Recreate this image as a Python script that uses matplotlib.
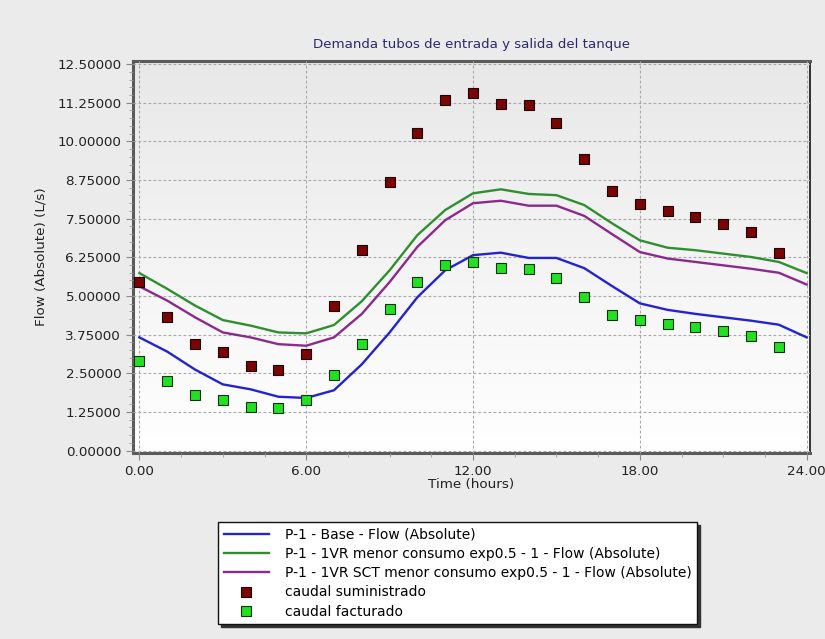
import matplotlib
matplotlib.use('Agg')
import matplotlib.pyplot as plt
from matplotlib.ticker import MultipleLocator
import numpy as np

# ---- data ----
hours = list(range(0, 25))
hours_pts = list(range(0, 24))

base_flow = [3.66, 3.20, 2.62, 2.14, 1.98, 1.74, 1.70, 1.95, 2.79, 3.82, 4.96, 5.83, 6.32,
             6.40, 6.23, 6.23, 5.90, 5.32, 4.76, 4.55, 4.42, 4.31, 4.20, 4.07, 3.66]
vr_flow = [5.74, 5.23, 4.69, 4.22, 4.04, 3.82, 3.79, 4.06, 4.83, 5.83, 6.97, 7.78, 8.32,
           8.45, 8.30, 8.26, 7.94, 7.35, 6.80, 6.56, 6.48, 6.37, 6.26, 6.10, 5.74]
vr_sct_flow = [5.31, 4.85, 4.31, 3.82, 3.66, 3.44, 3.39, 3.66, 4.42, 5.45, 6.59, 7.45, 8.00,
               8.08, 7.92, 7.92, 7.59, 7.00, 6.42, 6.21, 6.10, 5.99, 5.88, 5.75, 5.37]
suministrado = [5.45, 4.33, 3.46, 3.19, 2.72, 2.60, 3.11, 4.69, 6.50, 8.70, 10.28, 11.33,
                11.58, 11.22, 11.19, 10.59, 9.44, 8.38, 7.99, 7.75, 7.56, 7.32, 7.07, 6.38]
facturado = [2.88, 2.25, 1.81, 1.65, 1.42, 1.38, 1.62, 2.44, 3.43, 4.57, 5.45, 5.99, 6.10,
             5.90, 5.87, 5.59, 4.96, 4.40, 4.21, 4.09, 3.98, 3.86, 3.71, 3.35]

labels = ['P-1 - Base - Flow (Absolute)',
          'P-1 - 1VR menor consumo exp0.5 - 1 - Flow (Absolute)',
          'P-1 - 1VR SCT menor consumo exp0.5 - 1 - Flow (Absolute)',
          'caudal suministrado',
          'caudal facturado']

fig = plt.figure(figsize=(8.25, 6.39), dpi=100, facecolor='#ebebeb')
ax = fig.add_axes([133/825, 1 - 453/639, (810 - 133)/825, (453 - 60.7)/639])

# gradient background of the plot area
grad = np.linspace(0, 1, 256).reshape(-1, 1)
ax.imshow(grad, extent=[0, 1, 0, 1], transform=ax.transAxes, aspect='auto',
          cmap=matplotlib.colors.LinearSegmentedColormap.from_list('bg', ['#e8e8e8', '#ffffff']),
          origin='upper', zorder=0)

ax.plot(hours, base_flow, color='#2323d0', lw=1.7, label=labels[0], zorder=3)
ax.plot(hours, vr_flow, color='#2f8f2f', lw=1.7, label=labels[1], zorder=3)
ax.plot(hours, vr_sct_flow, color='#8b2a8b', lw=1.7, label=labels[2], zorder=3)
ax.plot(hours_pts, suministrado, ls='none', marker='s', ms=7, mfc='#7a0505', mec='#1a0000',
        mew=0.8, label=labels[3], zorder=4)
ax.plot(hours_pts, facturado, ls='none', marker='s', ms=7, mfc='#22e022', mec='#103010',
        mew=0.8, label=labels[4], zorder=4)

ax.set_xlim(-0.23, 24.12)
ax.set_ylim(-0.08, 12.61)
ax.xaxis.set_major_locator(MultipleLocator(6))
ax.xaxis.set_minor_locator(MultipleLocator(1.5))
ax.yaxis.set_major_locator(MultipleLocator(1.25))
ax.yaxis.set_minor_locator(MultipleLocator(0.25))
ax.xaxis.set_major_formatter(matplotlib.ticker.FormatStrFormatter('%.2f'))
ax.yaxis.set_major_formatter(matplotlib.ticker.FormatStrFormatter('%.5f'))
ax.tick_params(axis='both', which='major', labelsize=9.7, color='#888888', length=5,
               labelcolor='#222222')
ax.tick_params(axis='both', which='minor', color='#999999', length=3)
ax.grid(True, which='major', color='#a8a8a8', linestyle=(0, (2.5, 2)), linewidth=0.8, zorder=1)
ax.set_axisbelow(False)

for side in ['left', 'top', 'bottom']:
    ax.spines[side].set_color('#5a5a5a')
    ax.spines[side].set_linewidth(2.2)
ax.spines['right'].set_color('#111111')
ax.spines['right'].set_linewidth(1.2)

ax.set_title('Demanda tubos de entrada y salida del tanque', fontsize=9.6,
             color='#2a2a70', pad=9)
ax.set_xlabel('Time (hours)', fontsize=9.7, color='#222222', labelpad=0)
ax.set_ylabel('Flow (Absolute) (L/s)', fontsize=9.7, color='#222222', labelpad=7)

leg = fig.legend(loc='upper left', bbox_to_anchor=(218/825, 1 - 522/639),
                 fontsize=10, frameon=True, fancybox=False, edgecolor='#111111',
                 facecolor='white', framealpha=1, handlelength=3.3, handletextpad=1.1,
                 labelspacing=0.38, borderpad=0.4, borderaxespad=0,
                 shadow={'color': '#333333', 'alpha': 1, 'ox': 2, 'oy': -2})
leg.get_frame().set_linewidth(1.0)

fig.savefig('out.png', dpi=100, facecolor=fig.get_facecolor())
